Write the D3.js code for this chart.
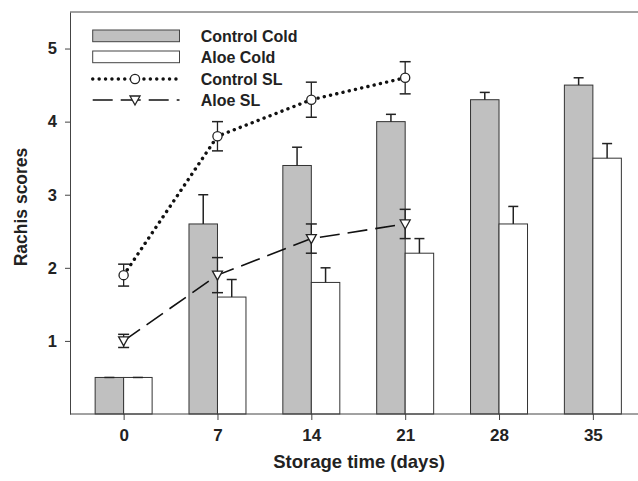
<!DOCTYPE html>
<html>
<head>
<meta charset="utf-8">
<script src="https://cdn.jsdelivr.net/npm/d3@7"></script>
<style>
  body { margin: 0; background: #fff; }
  svg { display: block; font-family: "Liberation Sans", Arial, sans-serif; font-weight: bold; }
  .axis text { fill: #222; }
  .axis path, .axis line { stroke: #444; }
</style>
</head>
<body>
<svg class="chart"></svg>
<script>
const days = [0, 7, 14, 21, 28, 35]
const controlCold = [0.5, 2.6, 3.4, 4.0, 4.3, 4.5]
const controlColdErr = [0, 0.4, 0.25, 0.1, 0.1, 0.1]
const aloeCold = [0.5, 1.6, 1.8, 2.2, 2.6, 3.5]
const aloeColdErr = [0, 0.24, 0.2, 0.2, 0.24, 0.2]

const slDays = [0, 7, 14, 21]
const controlSL = [1.9, 3.8, 4.3, 4.6]
const controlSLErr = [0.15, 0.2, 0.24, 0.22]
const aloeSL = [1.0, 1.9, 2.4, 2.6]
const aloeSLErr = [0.09, 0.24, 0.2, 0.2]

const yTicks = [1, 2, 3, 4, 5]
const legendLabels = ['Control Cold', 'Aloe Cold', 'Control SL', 'Aloe SL']

const width = 638
const height = 481
const barDays = 2.125
const capW = 10

const x = d3.scaleLinear().domain([-4, 39]).range([70, 646.5])
const y = d3.scaleLinear().domain([0, 5.5]).range([414, 12])

const chart = d3.select('.chart')
  .attr('width', width)
  .attr('height', height)

// frame top line
chart.append('line')
  .attr('x1', x(-4)).attr('x2', width)
  .attr('y1', y(5.5)).attr('y2', y(5.5))
  .attr('stroke', '#444')

// bars
const bars = chart.append('g').attr('class', 'bars')
const drawBars = (vals, errs, offset, fill) => {
  const g = bars.append('g')
  g.selectAll('rect')
    .data(days)
    .enter()
    .append('rect')
    .attr('x', (d) => x(d + offset))
    .attr('y', (d, i) => y(vals[i]))
    .attr('width', x(barDays) - x(0))
    .attr('height', (d, i) => y(0) - y(vals[i]))
    .attr('fill', fill)
    .attr('stroke', '#333')
    .attr('stroke-width', 1)
  const cx = (d) => x(d + offset + barDays / 2)
  g.selectAll('line.err')
    .data(days)
    .enter()
    .append('line')
    .attr('class', 'err')
    .attr('x1', cx).attr('x2', cx)
    .attr('y1', (d, i) => y(vals[i]))
    .attr('y2', (d, i) => y(vals[i] + errs[i]))
    .attr('stroke', '#222')
    .attr('stroke-width', 1.5)
  g.selectAll('line.cap')
    .data(days)
    .enter()
    .append('line')
    .attr('class', 'cap')
    .attr('x1', (d) => cx(d) - capW / 2).attr('x2', (d) => cx(d) + capW / 2)
    .attr('y1', (d, i) => y(vals[i] + errs[i]))
    .attr('y2', (d, i) => y(vals[i] + errs[i]))
    .attr('stroke', '#222')
    .attr('stroke-width', 1.5)
}
drawBars(controlCold, controlColdErr, -barDays, '#c0c0c0')
drawBars(aloeCold, aloeColdErr, 0, '#ffffff')

// axes
chart.append('g').attr('class', 'axis')
  .attr('transform', `translate(0,${y(0)})`)
  .call(d3.axisBottom(x).tickValues(days).tickSize(6).tickSizeOuter(0).tickPadding(9))
  .call(g => g.select('.domain').attr('d', `M${x(-4)},0H${width}`))
  .selectAll('text').attr('font-size', 17).attr('font-family', null)

chart.append('g').attr('class', 'axis')
  .attr('transform', `translate(${x(-4)},0)`)
  .call(d3.axisLeft(y).tickValues(yTicks).tickFormat(d3.format('d')).tickSize(5).tickSizeOuter(0).tickPadding(8))
  .selectAll('text').attr('font-size', 16.5).attr('font-family', null)

// lines with error bars
const drawLine = (vals, errs, dash, lineW, cap, marker) => {
  const g = chart.append('g')
  const line = d3.line().x((d) => x(d)).y((d, i) => y(vals[i]))
  g.append('path')
    .attr('d', line(slDays))
    .attr('fill', 'none')
    .attr('stroke', '#111')
    .attr('stroke-width', lineW)
    .attr('stroke-linecap', cap)
    .attr('stroke-dasharray', dash)
  slDays.forEach((d, i) => {
    const cx = x(d)
    const top = y(vals[i] + errs[i])
    const bot = y(vals[i] - errs[i])
    g.append('line').attr('x1', cx).attr('x2', cx).attr('y1', top).attr('y2', bot)
      .attr('stroke', '#222').attr('stroke-width', 1.3)
    ;[top, bot].forEach(yy => {
      g.append('line').attr('x1', cx - capW / 2 - 0.5).attr('x2', cx + capW / 2 + 0.5)
        .attr('y1', yy).attr('y2', yy)
        .attr('stroke', '#222').attr('stroke-width', 1.5)
    })
    marker(g, cx, y(vals[i]))
  })
}
const circle = (g, cx, cy) => g.append('circle')
  .attr('cx', cx).attr('cy', cy).attr('r', 4.6)
  .attr('fill', '#fff').attr('stroke', '#222').attr('stroke-width', 1.3)
const triangle = (g, cx, cy) => g.append('path')
  .attr('d', `M${cx - 5},${cy - 4}L${cx + 5},${cy - 4}L${cx},${cy + 5}Z`)
  .attr('fill', '#fff').attr('stroke', '#222').attr('stroke-width', 1.3)

drawLine(aloeSL, aloeSLErr, '20,8', 1.6, 'butt', triangle)
drawLine(controlSL, controlSLErr, '0.1,6.3', 3.4, 'round', circle)

// legend
const legend = chart.append('g')
const lx0 = 92.7
const lx1 = 179.5
const rowY = [36, 57, 79, 100]
legend.append('rect').attr('x', lx0).attr('y', rowY[0] - 6).attr('width', lx1 - lx0).attr('height', 11.7)
  .attr('fill', '#c0c0c0').attr('stroke', '#444')
legend.append('rect').attr('x', lx0).attr('y', rowY[1] - 6).attr('width', lx1 - lx0).attr('height', 11.7)
  .attr('fill', '#fff').attr('stroke', '#444')
legend.append('line').attr('x1', lx0).attr('x2', lx1).attr('y1', rowY[2]).attr('y2', rowY[2])
  .attr('stroke', '#111').attr('stroke-width', 3.4).attr('stroke-linecap', 'round')
  .attr('stroke-dasharray', '0.1,6.3')
circle(legend, 135, rowY[2])
legend.append('line').attr('x1', lx0).attr('x2', lx1).attr('y1', rowY[3]).attr('y2', rowY[3])
  .attr('stroke', '#111').attr('stroke-width', 1.6)
  .attr('stroke-dasharray', '20,8')
triangle(legend, 135, rowY[3])
legend.selectAll('text')
  .data(legendLabels)
  .enter()
  .append('text')
  .attr('x', 200.7)
  .attr('y', (d, i) => rowY[i] + 5.6)
  .attr('font-size', 16)
  .attr('fill', '#222')
  .text(d => d)

// axis titles
chart.append('text')
  .attr('x', 359)
  .attr('y', 468)
  .attr('text-anchor', 'middle')
  .attr('font-size', 18.5)
  .attr('fill', '#222')
  .text('Storage time (days)')

chart.append('text')
  .attr('transform', 'translate(26.5,207) rotate(-90)')
  .attr('text-anchor', 'middle')
  .attr('font-size', 17.5)
  .attr('fill', '#222')
  .text('Rachis scores')
</script>
</body>
</html>
